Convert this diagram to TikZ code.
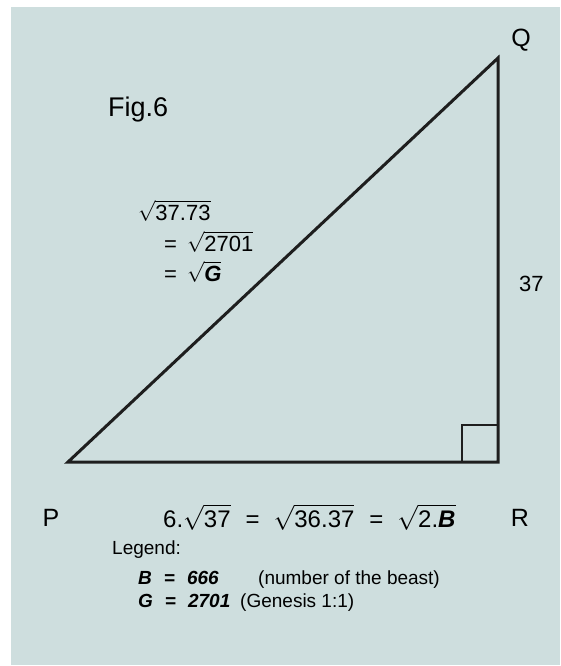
\documentclass[tikz,border=0pt]{standalone}
\usepackage{fontspec}
\setmainfont{Liberation Sans}
\usepackage{amsmath}
\usetikzlibrary{positioning}
\definecolor{bgblue}{RGB}{206,222,222}
\definecolor{edgegray}{RGB}{30,30,30}
\newcommand{\rt}[1]{\ensuremath{\sqrt{\mbox{#1}}}}
\newcommand{\bi}[1]{\textbf{\textit{#1}}}
\newcommand{\eqgap}{\hspace{15pt}=\hspace{14pt}}

\begin{document}
\begin{tikzpicture}[x=1pt,y=-1pt,
  every node/.style={font=\fontsize{22}{26}\selectfont,inner sep=0pt},
  vtx/.style={font=\fontsize{25}{29}\selectfont},
  lbl/.style={anchor=base west},
  lgd/.style={font=\fontsize{19}{23}\selectfont,anchor=base west},
  side/.style={draw=edgegray,line width=3pt,line join=miter},
  ra/.style={draw=edgegray,line width=1.4pt}]
\useasboundingbox (0,0) rectangle (560,666);
\fill[bgblue] (11,7) rectangle (560,665);
% triangle
\coordinate (P) at (68,462);
\coordinate (R) at (498,462);
\coordinate (Q) at (498,58);
\coordinate (sqa) at (462,462);
\coordinate (sqb) at (498,425);
\draw[ra] (sqa) |- (sqb);
\draw[side] (P) -- (R) -- (Q) -- cycle;
\node[vtx] (lP) at (51,518) {P};
\node[vtx] (lR) at (520,518) {R};
\node[vtx] (lQ) at (521,40) {Q};
\node[vtx,lbl,font=\fontsize{27}{31}\selectfont] (fig) at (108,117) {Fig.6};
% side labels
\node[lbl] (h1) at (138,220) {\rt{37.73}};
\node[lbl] (h2) at (164,251) {=\hspace{10pt}\rt{2701}};
\node[lbl] (h3) at (164,281) {=\hspace{10pt}\rt{\bi{G}}};
\node[lbl] (qr) at (519,291) {37};
\node[lbl,font=\fontsize{24}{28}\selectfont] (pr) at (163,527)
  {6.\rt{37}\eqgap\rt{36.37}\eqgap\rt{2.\bi{B}}};
% legend
\node[lgd] (leg) at (112,554) {Legend:};
\node[lgd] (lb) at (138,584) {\bi{B\hspace{12pt}=\hspace{12pt}666}};
\node[lgd] (lbt) at (258,584) {(number of the beast)};
\node[lgd] (lg) at (138,607) {\bi{G\hspace{12pt}=\hspace{12pt}2701}};
\node[lgd] (lgt) at (240,607) {(Genesis 1:1)};
\end{tikzpicture}
\end{document}
